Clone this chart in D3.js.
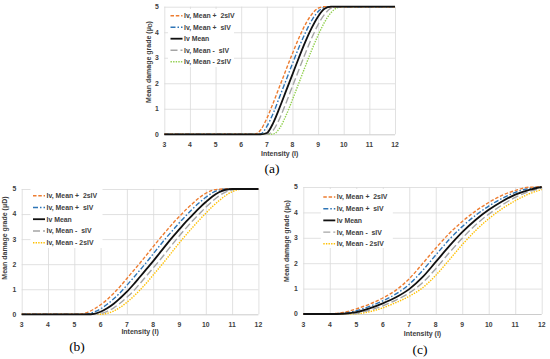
<!DOCTYPE html>
<html>
<head>
<meta charset="utf-8">
<script src="https://cdn.jsdelivr.net/npm/d3@7"></script>
<style>
  body { margin: 0; background: #fff; }
  text { font-family: "Liberation Sans", Arial, sans-serif; fill: #404040; }
</style>
</head>
<body>
<svg id="fig" width="550" height="359"></svg>
<script>
var xTicks = [3, 4, 5, 6, 7, 8, 9, 10, 11, 12];
var yTicks = [0, 1, 2, 3, 4, 5];
var seriesNames = ["Iv, Mean +  2sIV", "Iv, Mean +  sIV", "Iv Mean", "Iv, Mean -  sIV", "Iv, Mean - 2sIV"];

// panel (a)
var xA = [3, 6.5, 6.75, 7, 7.25, 7.5, 7.75, 8, 8.25, 8.5, 8.75, 9, 9.25, 9.5, 9.75, 10, 12];
var aPlus2 = [0, 0, 0.16, 0.62, 1.23, 1.88, 2.53, 3.17, 3.77, 4.30, 4.70, 4.94, 5, 5, 5, 5, 5];
var aPlus1 = [0, 0, 0.01, 0.31, 0.83, 1.47, 2.12, 2.77, 3.40, 3.97, 4.46, 4.81, 4.97, 5, 5, 5, 5];
var aMean = [0, 0, 0, 0.05, 0.45, 1.05, 1.7, 2.35, 3.0, 3.62, 4.17, 4.62, 4.92, 5, 5, 5, 5];
var aMinus1 = [0, 0, 0, 0, 0.16, 0.62, 1.23, 1.88, 2.53, 3.17, 3.77, 4.30, 4.70, 4.94, 5, 5, 5];
var aMinus2 = [0, 0, 0, 0, 0.01, 0.24, 0.74, 1.36, 2.01, 2.66, 3.30, 3.88, 4.39, 4.76, 4.96, 5, 5];

// panel (b)
var xB = [3, 5, 5.25, 5.5, 5.75, 6, 6.25, 6.5, 6.75, 7, 7.25, 7.5, 7.75, 8, 8.25, 8.5, 8.75, 9, 9.25, 9.5, 9.75, 10, 10.25, 10.5, 10.75, 11, 11.25, 11.5, 12];
var bPlus2 = [0, 0, 0.01, 0.08, 0.21, 0.38, 0.59, 0.84, 1.12, 1.43, 1.74, 2.05, 2.37, 2.70, 3.02, 3.33, 3.63, 3.91, 4.18, 4.42, 4.65, 4.83, 4.95, 4.99, 5, 5, 5, 5, 5];
var bPlus1 = [0, 0, 0, 0.02, 0.09, 0.22, 0.40, 0.62, 0.87, 1.16, 1.46, 1.77, 2.08, 2.41, 2.74, 3.06, 3.36, 3.66, 3.94, 4.21, 4.45, 4.67, 4.85, 4.96, 5, 5, 5, 5, 5];
var bMean = [0, 0, 0, 0, 0.02, 0.1, 0.24, 0.42, 0.65, 0.9, 1.19, 1.5, 1.81, 2.12, 2.45, 2.78, 3.1, 3.4, 3.7, 3.97, 4.24, 4.48, 4.7, 4.87, 4.97, 5, 5, 5, 5];
var bMinus1 = [0, 0, 0, 0, 0, 0.03, 0.12, 0.26, 0.45, 0.68, 0.93, 1.23, 1.54, 1.85, 2.16, 2.49, 2.82, 3.14, 3.44, 3.73, 4.0, 4.27, 4.51, 4.72, 4.88, 4.97, 5, 5, 5];
var bMinus2 = [0, 0, 0, 0, 0, 0, 0.04, 0.13, 0.28, 0.48, 0.71, 0.97, 1.26, 1.57, 1.88, 2.20, 2.53, 2.86, 3.17, 3.47, 3.76, 4.03, 4.30, 4.53, 4.74, 4.89, 4.98, 5, 5];

// panel (c)
var xC = [3, 3.5, 4, 4.5, 5, 5.5, 6, 6.5, 7, 7.5, 8, 8.5, 9, 9.5, 10, 10.5, 11, 11.5, 12];
var cPlus2 = [0, 0, 0.01, 0.06, 0.20, 0.39, 0.63, 0.94, 1.39, 1.98, 2.59, 3.16, 3.64, 4.05, 4.39, 4.67, 4.86, 4.99, 5];
var cPlus1 = [0, 0, 0, 0.03, 0.13, 0.30, 0.52, 0.79, 1.17, 1.71, 2.32, 2.92, 3.44, 3.88, 4.25, 4.55, 4.79, 4.94, 5];
var cMean = [0, 0, 0, 0.01, 0.07, 0.22, 0.42, 0.66, 0.98, 1.45, 2.05, 2.66, 3.22, 3.7, 4.1, 4.43, 4.7, 4.88, 5];
var cMinus1 = [0, 0, 0, 0, 0.03, 0.15, 0.32, 0.55, 0.83, 1.23, 1.78, 2.40, 2.98, 3.50, 3.93, 4.29, 4.59, 4.81, 4.96];
var cMinus2 = [0, 0, 0, 0, 0.01, 0.09, 0.24, 0.45, 0.70, 1.03, 1.52, 2.12, 2.73, 3.28, 3.75, 4.14, 4.46, 4.72, 4.90];

var svg = d3.select("#fig");

// line looks: orange dash, blue dash-dot, black solid, grey long dash, dotted last one
function styles(lastColor) {
  return [
    { color: "#ED7D31", dash: "3.5,1.8", w: 1.4 },
    { color: "#2E75B6", dash: "5,2,1.5,2", w: 1.4 },
    { color: "#111111", dash: null, w: 1.8 },
    { color: "#A5A5A5", dash: "7,3", w: 1.4 },
    { color: lastColor, dash: "1.4,1.2", w: 1.4 }
  ];
}

function drawPanel(p) {
  var x = d3.scaleLinear().domain([3, 12]).range([p.l, p.r]);
  var y = d3.scaleLinear().domain([0, 5]).range([p.b, p.t]);
  var g = svg.append("g");

  // grid via axes
  g.append("g").attr("transform", "translate(0," + p.b + ")")
    .call(d3.axisBottom(x).tickValues(xTicks).tickSize(-(p.b - p.t)).tickPadding(0).tickFormat(""));
  var gy = g.append("g").attr("transform", "translate(" + p.l + ",0)")
    .call(d3.axisLeft(y).tickValues(yTicks).tickSize(-(p.r - p.l)).tickPadding(0).tickFormat(""));
  g.selectAll(".domain").remove();
  g.selectAll(".tick line").attr("stroke", "#d9d9d9").attr("stroke-width", 0.8);
  gy.selectAll(".tick").filter(function(d) { return d === 0; }).select("line").attr("stroke", "#bfbfbf");

  // tick labels
  g.selectAll(".xl").data(xTicks).enter().append("text")
    .attr("x", function(d) { return x(d); }).attr("y", p.b + 12.5)
    .attr("text-anchor", "middle").attr("font-size", 6.8).attr("font-weight", "bold")
    .text(function(d) { return d; });
  g.selectAll(".yl").data(yTicks).enter().append("text")
    .attr("x", p.l - 5.5).attr("y", function(d) { return y(d) + 2.4; })
    .attr("text-anchor", "end").attr("font-size", 6.8).attr("font-weight", "bold")
    .text(function(d) { return d; });

  // axis titles
  g.append("text").attr("x", (p.l + p.r) / 2).attr("y", p.xtY)
    .attr("text-anchor", "middle").attr("font-size", 7).attr("font-weight", "bold")
    .text("Intensity (I)");
  var yt = g.append("text").attr("transform", "translate(" + p.ytX + "," + p.ytY + ") rotate(-90)")
    .attr("text-anchor", "middle").attr("font-size", 7).attr("font-weight", "bold");
  if (p.sub) {
    yt.append("tspan").text("Mean damage grade (μ");
    yt.append("tspan").attr("font-size", 5).attr("dy", 1.5).text("D");
    yt.append("tspan").attr("dy", -1.5).text(")");
  } else {
    yt.text("Mean damage grade (μD)");
  }

  // curves
  var st = styles(p.lastColor);
  var line = d3.line()
    .x(function(d) { return x(d[0]); })
    .y(function(d) { return y(d[1]); })
    .curve(d3.curveMonotoneX);
  [4, 3, 1, 0, 2].forEach(function(i) {
    var pts = p.xs.map(function(v, k) { return [v, p.series[i][k]]; });
    g.append("path").datum(pts)
      .attr("d", line)
      .attr("fill", "none")
      .attr("stroke", st[i].color)
      .attr("stroke-width", st[i].w)
      .attr("stroke-dasharray", st[i].dash);
  });

  // legend
  var lg = g.append("g");
  lg.append("rect").attr("x", p.lg.x).attr("y", p.lg.y).attr("width", p.lg.w).attr("height", p.lg.h)
    .attr("fill", "#fff");
  seriesNames.forEach(function(name, i) {
    var cy = p.lg.y + p.lg.first + i * p.lg.step;
    lg.append("line").attr("x1", p.lg.x + 2.5).attr("x2", p.lg.x + 14.5)
      .attr("y1", cy).attr("y2", cy)
      .attr("stroke", st[i].color).attr("stroke-width", st[i].w)
      .attr("stroke-dasharray", st[i].dash);
    lg.append("text").attr("x", p.lg.x + 16).attr("y", cy + 2.4)
      .attr("font-size", 6.9).attr("font-weight", "bold")
      .style("white-space", "pre")
      .text(name);
  });

  // caption
  svg.append("text").attr("x", p.capX).attr("y", p.capY)
    .attr("text-anchor", "middle")
    .style("font-family", "'Liberation Serif', 'Times New Roman', serif")
    .style("fill", "#000")
    .attr("font-size", 13.5)
    .text(p.cap);
}

drawPanel({
  l: 164.3, r: 395, t: 6.7, b: 134.3,
  xs: xA, series: [aPlus2, aPlus1, aMean, aMinus1, aMinus2], lastColor: "#92D050",
  xtY: 155.5, ytX: 150.5, ytY: 62, sub: true,
  lg: { x: 168, y: 9, w: 66, h: 58, first: 6.7, step: 11.5 },
  cap: "(a)", capX: 272, capY: 173
});
drawPanel({
  l: 21.7, r: 258.4, t: 189, b: 314.3,
  xs: xB, series: [bPlus2, bPlus1, bMean, bMinus1, bMinus2], lastColor: "#FFC000",
  xtY: 334, ytX: 6.5, ytY: 238, sub: false,
  lg: { x: 30.5, y: 189, w: 72, h: 59, first: 6.7, step: 11.75 },
  cap: "(b)", capX: 77, capY: 351
});
drawPanel({
  l: 303.3, r: 541.7, t: 187, b: 314,
  xs: xC, series: [cPlus2, cPlus1, cMean, cMinus1, cMinus2], lastColor: "#FFC000",
  xtY: 335.5, ytX: 288.5, ytY: 241, sub: true,
  lg: { x: 320.8, y: 189, w: 72, h: 59, first: 8, step: 11.7 },
  cap: "(c)", capX: 420, capY: 354
});
</script>
</body>
</html>
